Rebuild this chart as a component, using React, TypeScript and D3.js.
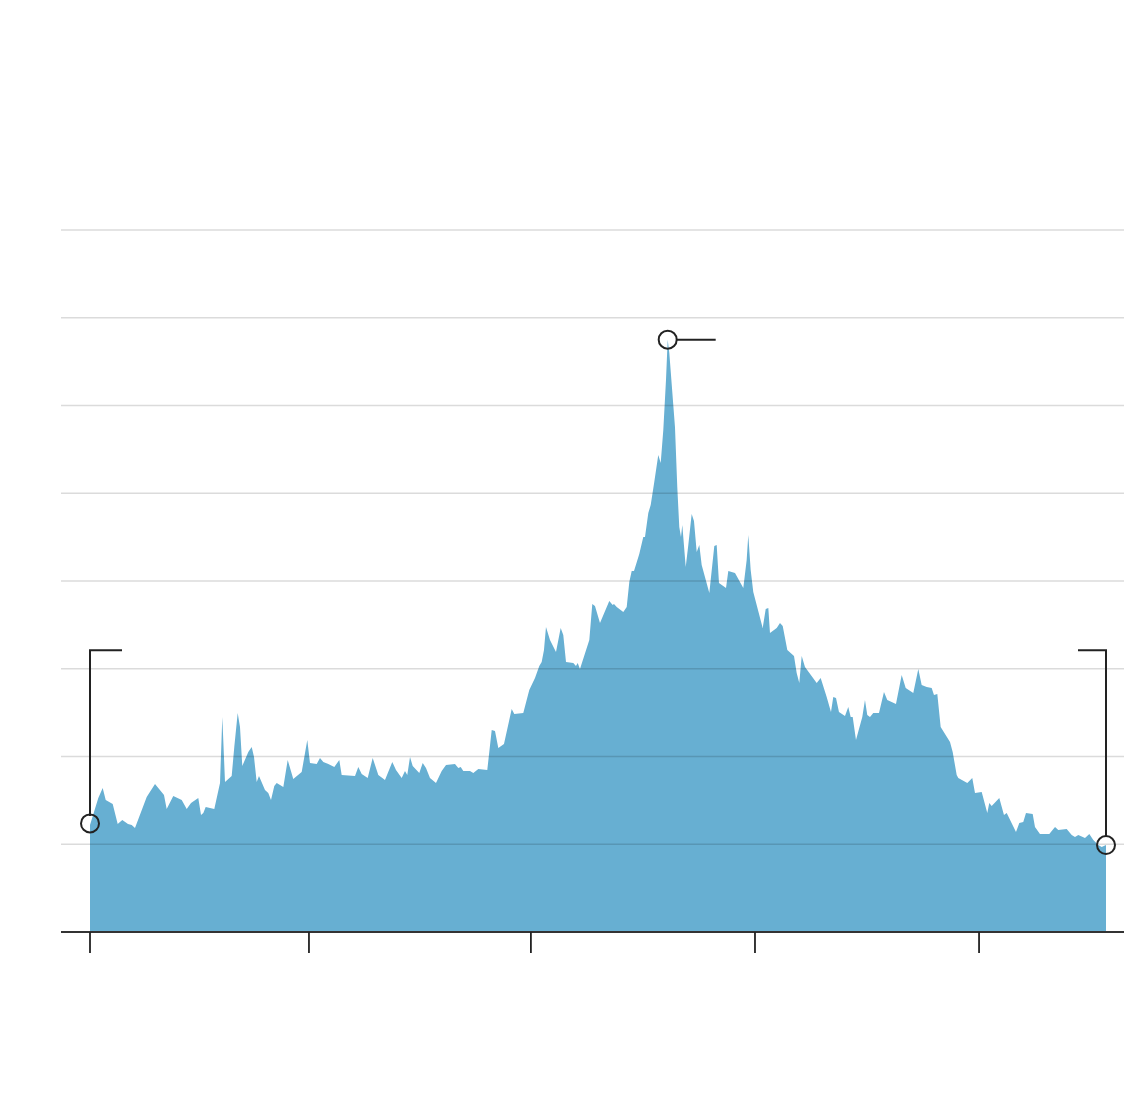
import React from "react";
import * as d3 from "d3";

// Weekly series: week index and value (gridline step = 10)
const weeks: number[] = [
  0, 1.95, 2.98, 3.69, 5.33, 6.5, 7.58, 8.92, 9.79, 10.56, 13.31, 15.26, 17.37, 18.0, 19.55, 21.53, 22.7, 23.71, 25.42, 26.06,
  26.6, 27.16, 29.18, 30.52, 31.06, 31.69, 33.26, 33.87, 34.67, 35.21, 35.75, 37.16, 37.96, 38.5, 39.13, 39.67, 41.08, 41.85, 42.49, 43.26,
  43.83, 45.38, 46.41, 47.72, 49.69, 51.01, 51.64, 53.22, 53.99, 54.77, 55.94, 57.35, 58.52, 59.08, 62.21, 62.98, 63.78, 65.19, 66.36, 67.68,
  69.25, 70.96, 71.83, 73.17, 73.94, 74.48, 75.12, 75.75, 77.3, 78.1, 78.87, 79.81, 81.22, 82.56, 83.57, 85.68, 86.46, 87.02, 87.63, 89.2,
  89.98, 91.15, 93.26, 94.3, 95.07, 95.85, 97.18, 98.99, 99.6, 101.71, 103.12, 104.46, 105.47, 106.03, 106.57, 107.04, 107.98, 109.39, 110.49, 111.1,
  111.74, 113.45, 114.08, 114.48, 115.02, 117.21, 117.91, 118.54, 119.72, 121.9, 122.7, 123.0, 123.64, 125.19, 125.99, 126.6, 127.16, 127.7, 128.94, 129.88,
  130.28, 131.06, 131.62, 132.46, 133.4, 133.97, 134.58, 135.21, 135.61, 135.99, 137.32, 137.86, 138.33, 138.73, 139.04, 139.84, 140.45, 141.24, 141.78, 142.42,
  143.03, 143.59, 145.38, 146.55, 147.11, 147.65, 149.3, 149.84, 151.41, 153.36, 154.15, 154.53, 155.09, 155.7, 157.91, 158.62, 159.23, 159.62, 161.2, 161.97,
  162.61, 163.69, 165.26, 165.89, 166.5, 167.07, 167.84, 170.59, 171.52, 172.93, 173.94, 174.48, 175.12, 175.82, 177.23, 178.0, 178.57, 179.04, 179.81, 181.29,
  181.92, 182.46, 183.1, 183.87, 185.21, 186.38, 187.16, 189.2, 190.54, 191.48, 193.26, 194.44, 195.23, 196.41, 197.58, 198.12, 198.9, 199.69, 201.88, 202.51,
  203.45, 203.83, 205.94, 207.11, 207.75, 209.32, 210.63, 211.1, 211.67, 213.45, 214.55, 215.19, 217.37, 218.15, 219.08, 219.72, 221.29, 221.83, 223.0, 225.19,
  226.53, 227.3, 229.27, 230.45, 231.22, 232.0, 233.57, 234.58, 235.52, 236.69, 237.49, 238.5,
];

const values: number[] = [
  12.2, 15.27, 16.41, 15.04, 14.59, 12.31, 12.76, 12.31, 12.19, 11.85, 15.38, 16.87, 15.61, 14.02, 15.5, 15.04, 14.02, 14.7, 15.27, 13.33,
  13.56, 14.25, 14.02, 16.98, 24.5, 17.09, 17.78, 21.08, 24.96, 23.36, 18.92, 20.51, 21.08, 19.94, 17.09, 17.78, 16.18, 15.84, 15.04, 16.64,
  16.98, 16.52, 19.6, 17.44, 18.23, 21.88, 19.26, 19.15, 19.83, 19.37, 19.15, 18.8, 19.6, 17.89, 17.78, 18.8, 18.01, 17.55, 19.83, 17.89,
  17.32, 19.37, 18.46, 17.55, 18.35, 17.89, 19.94, 18.92, 18.12, 19.26, 18.69, 17.55, 16.98, 18.35, 19.03, 19.15, 18.69, 18.8, 18.35, 18.35,
  18.12, 18.58, 18.46, 23.02, 22.91, 20.97, 21.42, 25.41, 24.84, 24.96, 27.58, 28.95, 30.31, 30.77, 32.14, 34.76, 33.28, 31.91, 34.64, 33.85,
  30.77, 30.66, 30.31, 30.66, 29.97, 33.28, 37.38, 37.15, 35.21, 37.72, 37.26, 37.38, 37.04, 36.47, 37.04, 39.89, 41.14, 41.14, 43.08, 45.01,
  45.01, 47.75, 48.66, 51.28, 54.36, 53.45, 57.21, 62.91, 67.5, 65.98, 57.55, 50.71, 46.15, 45.01, 46.38, 41.6, 44.1, 47.64, 46.84, 43.3,
  44.1, 41.82, 38.63, 43.99, 44.1, 39.77, 39.2, 41.14, 40.91, 39.2, 42.39, 45.24, 41.25, 38.75, 34.64, 36.81, 36.92, 34.07, 34.64, 35.21,
  34.87, 32.14, 31.45, 29.52, 28.38, 31.45, 30.2, 28.38, 28.95, 26.78, 25.07, 26.78, 26.67, 25.07, 24.62, 25.64, 24.5, 24.5, 21.88, 24.5,
  26.44, 24.73, 24.5, 24.96, 24.96, 27.35, 26.44, 25.98, 29.29, 27.81, 27.24, 29.97, 28.15, 27.92, 27.81, 27.01, 27.12, 23.36, 21.65, 20.51,
  17.89, 17.55, 16.98, 17.55, 15.84, 15.95, 13.56, 14.7, 14.36, 15.27, 13.33, 13.56, 11.4, 12.42, 12.54, 13.56, 13.45, 11.97, 11.17, 11.17,
  11.97, 11.62, 11.74, 11.05, 10.83, 11.05, 10.71, 11.17, 10.48, 9.91, 9.69, 9.91,
];

const gridValues: number[] = [10, 20, 30, 40, 50, 60, 70, 80];
const tickWeeks: number[] = [0, 51.4, 103.5, 156.1, 208.7];
const bracketLevel = 32.1;

const W = 1132;
const H = 1110;

export default function App() {
  const data = weeks.map((w, i) => ({ w, v: values[i] }));
  const x = d3.scaleLinear().domain([0, 238.5]).range([90, 1106]);
  const y = d3.scaleLinear().domain([0, 80]).range([932, 230]);
  const area = d3
    .area<{ w: number; v: number }>()
    .x((d) => x(d.w))
    .y0(y(0))
    .y1((d) => y(d.v))
    .curve(d3.curveLinear);

  const first = data[0];
  const last = data[data.length - 1];
  const peak = data.reduce((a, b) => (b.v > a.v ? b : a));
  const r = 9;
  const ink = "#222";

  return (
    <svg
      width={W}
      height={H}
      style={{ position: "absolute", left: 0, top: 0, background: "#fff" }}
    >
      <path d={area(data) || ""} fill="#67afd2" />
      {gridValues.map((g) => (
        <line
          key={g}
          x1={61}
          x2={1124}
          y1={y(g)}
          y2={y(g)}
          stroke="#000"
          strokeOpacity={0.14}
          strokeWidth={1.3}
        />
      ))}
      <line x1={61} x2={1124} y1={y(0)} y2={y(0)} stroke="#333" strokeWidth={2} />
      {tickWeeks.map((t) => (
        <line key={t} x1={x(t)} x2={x(t)} y1={y(0)} y2={y(0) + 21} stroke="#222" strokeWidth={1.8} />
      ))}

      {/* first point annotation */}
      <polyline
        points={`${x(first.w)},${y(first.v) - r} ${x(first.w)},${y(bracketLevel)} ${x(first.w) + 32},${y(bracketLevel)}`}
        fill="none"
        stroke={ink}
        strokeWidth={2}
      />
      <circle cx={x(first.w)} cy={y(first.v) - 1.5} r={r} fill="none" stroke={ink} strokeWidth={2} />

      {/* peak annotation */}
      <line x1={x(peak.w) + r} x2={x(peak.w) + 48} y1={y(peak.v)} y2={y(peak.v)} stroke={ink} strokeWidth={2} />
      <circle cx={x(peak.w)} cy={y(peak.v)} r={r} fill="none" stroke={ink} strokeWidth={2} />

      {/* last point annotation */}
      <polyline
        points={`${x(last.w)},${y(last.v) - r} ${x(last.w)},${y(bracketLevel)} ${x(last.w) - 28},${y(bracketLevel)}`}
        fill="none"
        stroke={ink}
        strokeWidth={2}
      />
      <circle cx={x(last.w)} cy={y(last.v)} r={r} fill="none" stroke={ink} strokeWidth={2} />
    </svg>
  );
}
